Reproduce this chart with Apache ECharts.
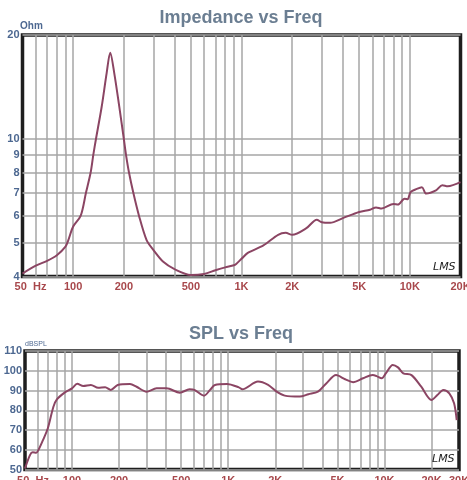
<!DOCTYPE html>
<html>
<head>
<meta charset="utf-8">
<script src="https://cdn.jsdelivr.net/npm/echarts@6/dist/echarts.min.js"></script>
<style>
html,body{margin:0;padding:0;background:#fff;}
#c{width:467px;height:480px;}
</style>
</head>
<body>
<div id="c"></div>
<script>
// Impedance curve (Hz, Ohm)
const zFreq = [50, 60, 70, 80, 90, 93.6, 100, 110.9, 119.2, 127, 131.7, 136.6, 147.7, 158, 166, 175.5, 187.9, 200, 206, 214.6, 227.5, 246, 273, 300, 343, 400, 500, 600, 700, 800, 900, 930, 1000, 1090, 1350, 1650, 1830, 2000, 2430, 2800, 3000, 3360, 4000, 5000, 5800, 6300, 6800, 8000, 8500, 9300, 9700, 10100, 11000, 11800, 12500, 14300, 15600, 16800, 20000];
const zOhm  = [4.08, 4.30, 4.44, 4.61, 4.88, 5.10, 5.58, 6.0, 7.0, 8.0, 9.0, 10.0, 12.4, 15.49, 17.78, 15.49, 12.4, 10.0, 9.0, 8.0, 7.0, 6.0, 5.10, 4.77, 4.41, 4.20, 4.04, 4.07, 4.17, 4.25, 4.31, 4.35, 4.50, 4.68, 4.92, 5.28, 5.35, 5.28, 5.52, 5.84, 5.74, 5.72, 5.90, 6.15, 6.24, 6.34, 6.29, 6.49, 6.46, 6.72, 6.69, 7.02, 7.17, 7.25, 6.95, 7.10, 7.35, 7.30, 7.50];

// SPL curve (Hz, dB)
const splFreq = [50, 53.8, 56, 59, 61, 65.6, 70, 76, 80, 89.6, 100, 108, 118, 132, 147, 163, 177, 196, 235, 259, 300, 348, 403, 490, 565, 607, 700, 765, 822, 983, 1170, 1230, 1550, 1800, 2040, 2300, 2870, 3260, 3750, 4240, 4900, 5600, 6300, 7300, 8400, 8900, 9600, 10200, 11300, 12200, 13200, 14900, 17200, 20000, 21800, 23800, 26000, 27900, 29000];
const splDb   = [50.5, 57.3, 58.7, 58.5, 59.9, 65.4, 70.9, 81.8, 85.5, 88.9, 91.1, 93.4, 92.3, 92.8, 91.4, 91.6, 90.3, 92.8, 93.3, 91.9, 89.4, 91.1, 91.1, 88.9, 90.6, 90.3, 87.4, 90.3, 92.8, 93.3, 91.6, 90.6, 94.5, 92.8, 89.4, 87.4, 86.9, 88.1, 89.4, 93.6, 97.8, 95.7, 94.2, 96.2, 97.8, 97.3, 96.2, 98.7, 102.9, 101.7, 98.7, 97.8, 91.9, 85.2, 87.7, 90.3, 88.6, 83.5, 75];

// Grid lines and tick labels
const topGridFreq = [60, 70, 80, 90, 100, 200, 300, 400, 500, 600, 700, 800, 900, 1000, 2000, 3000, 4000, 5000, 6000, 7000, 8000, 9000, 10000];
const topXLabels = [50, 100, 200, 500, 1000, 2000, 5000, 10000, 20000];
const topYTicks = [4, 5, 6, 7, 8, 9, 10, 20];
const botGridFreq = [60, 70, 80, 90, 100, 200, 300, 400, 500, 600, 700, 800, 900, 1000, 2000, 3000, 4000, 5000, 6000, 7000, 8000, 9000, 10000, 20000];
const botXLabels = [50, 100, 200, 500, 1000, 2000, 5000, 10000, 20000, 30000];

const FONT = "'Liberation Sans', Arial, sans-serif";
const LINE = '#8b4563';
const GRIDC = '#a6a6a6';
const XLAB = '#a8484c';
const YLAB = '#4d6891';
const TITLE = '#6b7e92';

function fmtFreq(v) {
  if (v === 50) return '{h|50  Hz}';
  if (v >= 1000) return (v / 1000) + 'K';
  return String(v);
}
const xLabelBase = {
  color: XLAB, fontWeight: 'bold', fontSize: 11, fontFamily: FONT,
  formatter: fmtFreq,
  rich: { h: { color: XLAB, fontWeight: 'bold', fontSize: 11, fontFamily: FONT, padding: [0, 0, 0, 16] } }
};

const chart = echarts.init(document.getElementById('c'), null, { renderer: 'canvas' });
const pair = (a, b) => a.map((v, i) => [v, b[i]]);

chart.setOption({
  backgroundColor: '#fff',
  animation: false,
  title: [
    { text: 'Impedance vs Freq', left: 241, top: 9, textAlign: 'center', padding: 0,
      textStyle: { color: TITLE, fontSize: 18, fontWeight: 'bold', fontFamily: FONT } },
    { text: 'SPL vs Freq', left: 241, top: 325, textAlign: 'center', padding: 0,
      textStyle: { color: TITLE, fontSize: 18, fontWeight: 'bold', fontFamily: FONT } }
  ],
  grid: [
    { left: 22.5, top: 35, width: 438, height: 241.5, show: true, borderColor: '#1e1e1e', borderWidth: 3.5, backgroundColor: '#fff', z: 0, outerBoundsMode: 'none', containLabel: false },
    { left: 25, top: 351, width: 434, height: 118.5, show: true, borderColor: '#1e1e1e', borderWidth: 3.5, backgroundColor: '#fff', z: 0, outerBoundsMode: 'none', containLabel: false }
  ],
  xAxis: [
    { type: 'log', logBase: 10, gridIndex: 0, min: 50, max: 20000,
      axisLine: { show: false }, axisTick: { show: false, customValues: topGridFreq },
      splitLine: { show: true, lineStyle: { color: GRIDC, width: 1.5 } },
      axisLabel: Object.assign({ margin: 5, customValues: topXLabels, showMinLabel: true, showMaxLabel: true, hideOverlap: false }, xLabelBase) },
    { type: 'log', logBase: 10, gridIndex: 1, min: 50, max: 30000,
      axisLine: { show: false }, axisTick: { show: false, customValues: botGridFreq },
      splitLine: { show: true, lineStyle: { color: GRIDC, width: 1.5 } },
      axisLabel: Object.assign({ margin: 6, customValues: botXLabels, showMinLabel: true, showMaxLabel: true, hideOverlap: false }, xLabelBase) }
  ],
  yAxis: [
    { type: 'log', logBase: 10, gridIndex: 0, min: 4, max: 20,
      axisLine: { show: false }, axisTick: { show: false, customValues: topYTicks },
      splitLine: { show: true, lineStyle: { color: GRIDC, width: 1.5 } },
      axisLabel: { customValues: topYTicks, margin: 3, color: YLAB, fontWeight: 'bold', fontSize: 11, fontFamily: FONT } },
    { type: 'value', gridIndex: 1, min: 50, max: 110, interval: 10,
      axisLine: { show: false }, axisTick: { show: false },
      splitLine: { show: true, lineStyle: { color: GRIDC, width: 1.5 } },
      axisLabel: { margin: 3, color: YLAB, fontWeight: 'bold', fontSize: 11, fontFamily: FONT } }
  ],
  series: [
    { type: 'line', xAxisIndex: 0, yAxisIndex: 0, data: pair(zFreq, zOhm), smooth: 0.3,
      showSymbol: false, lineStyle: { color: LINE, width: 2 }, z: 5 },
    { type: 'line', xAxisIndex: 1, yAxisIndex: 1, data: pair(splFreq, splDb), smooth: 0.3,
      showSymbol: false, lineStyle: { color: LINE, width: 2 }, z: 5 }
  ],
  graphic: [
    { type: 'text', left: 20, top: 21, z: 10,
      style: { text: 'Ohm', fill: YLAB, font: "bold 10px 'Liberation Sans', Arial, sans-serif" } },
    { type: 'text', left: 25, top: 341, z: 10,
      style: { text: 'dBSPL', fill: YLAB, font: "7px 'Liberation Sans', Arial, sans-serif" } },
    { type: 'text', left: 433, top: 262, z: 10,
      style: { text: 'LMS', fill: '#222', font: "italic 11px 'DejaVu Sans', sans-serif" } },
    { type: 'text', left: 432, top: 454, z: 10,
      style: { text: 'LMS', fill: '#222', font: "italic 11px 'DejaVu Sans', sans-serif" } }
  ]
});
</script>
</body>
</html>
